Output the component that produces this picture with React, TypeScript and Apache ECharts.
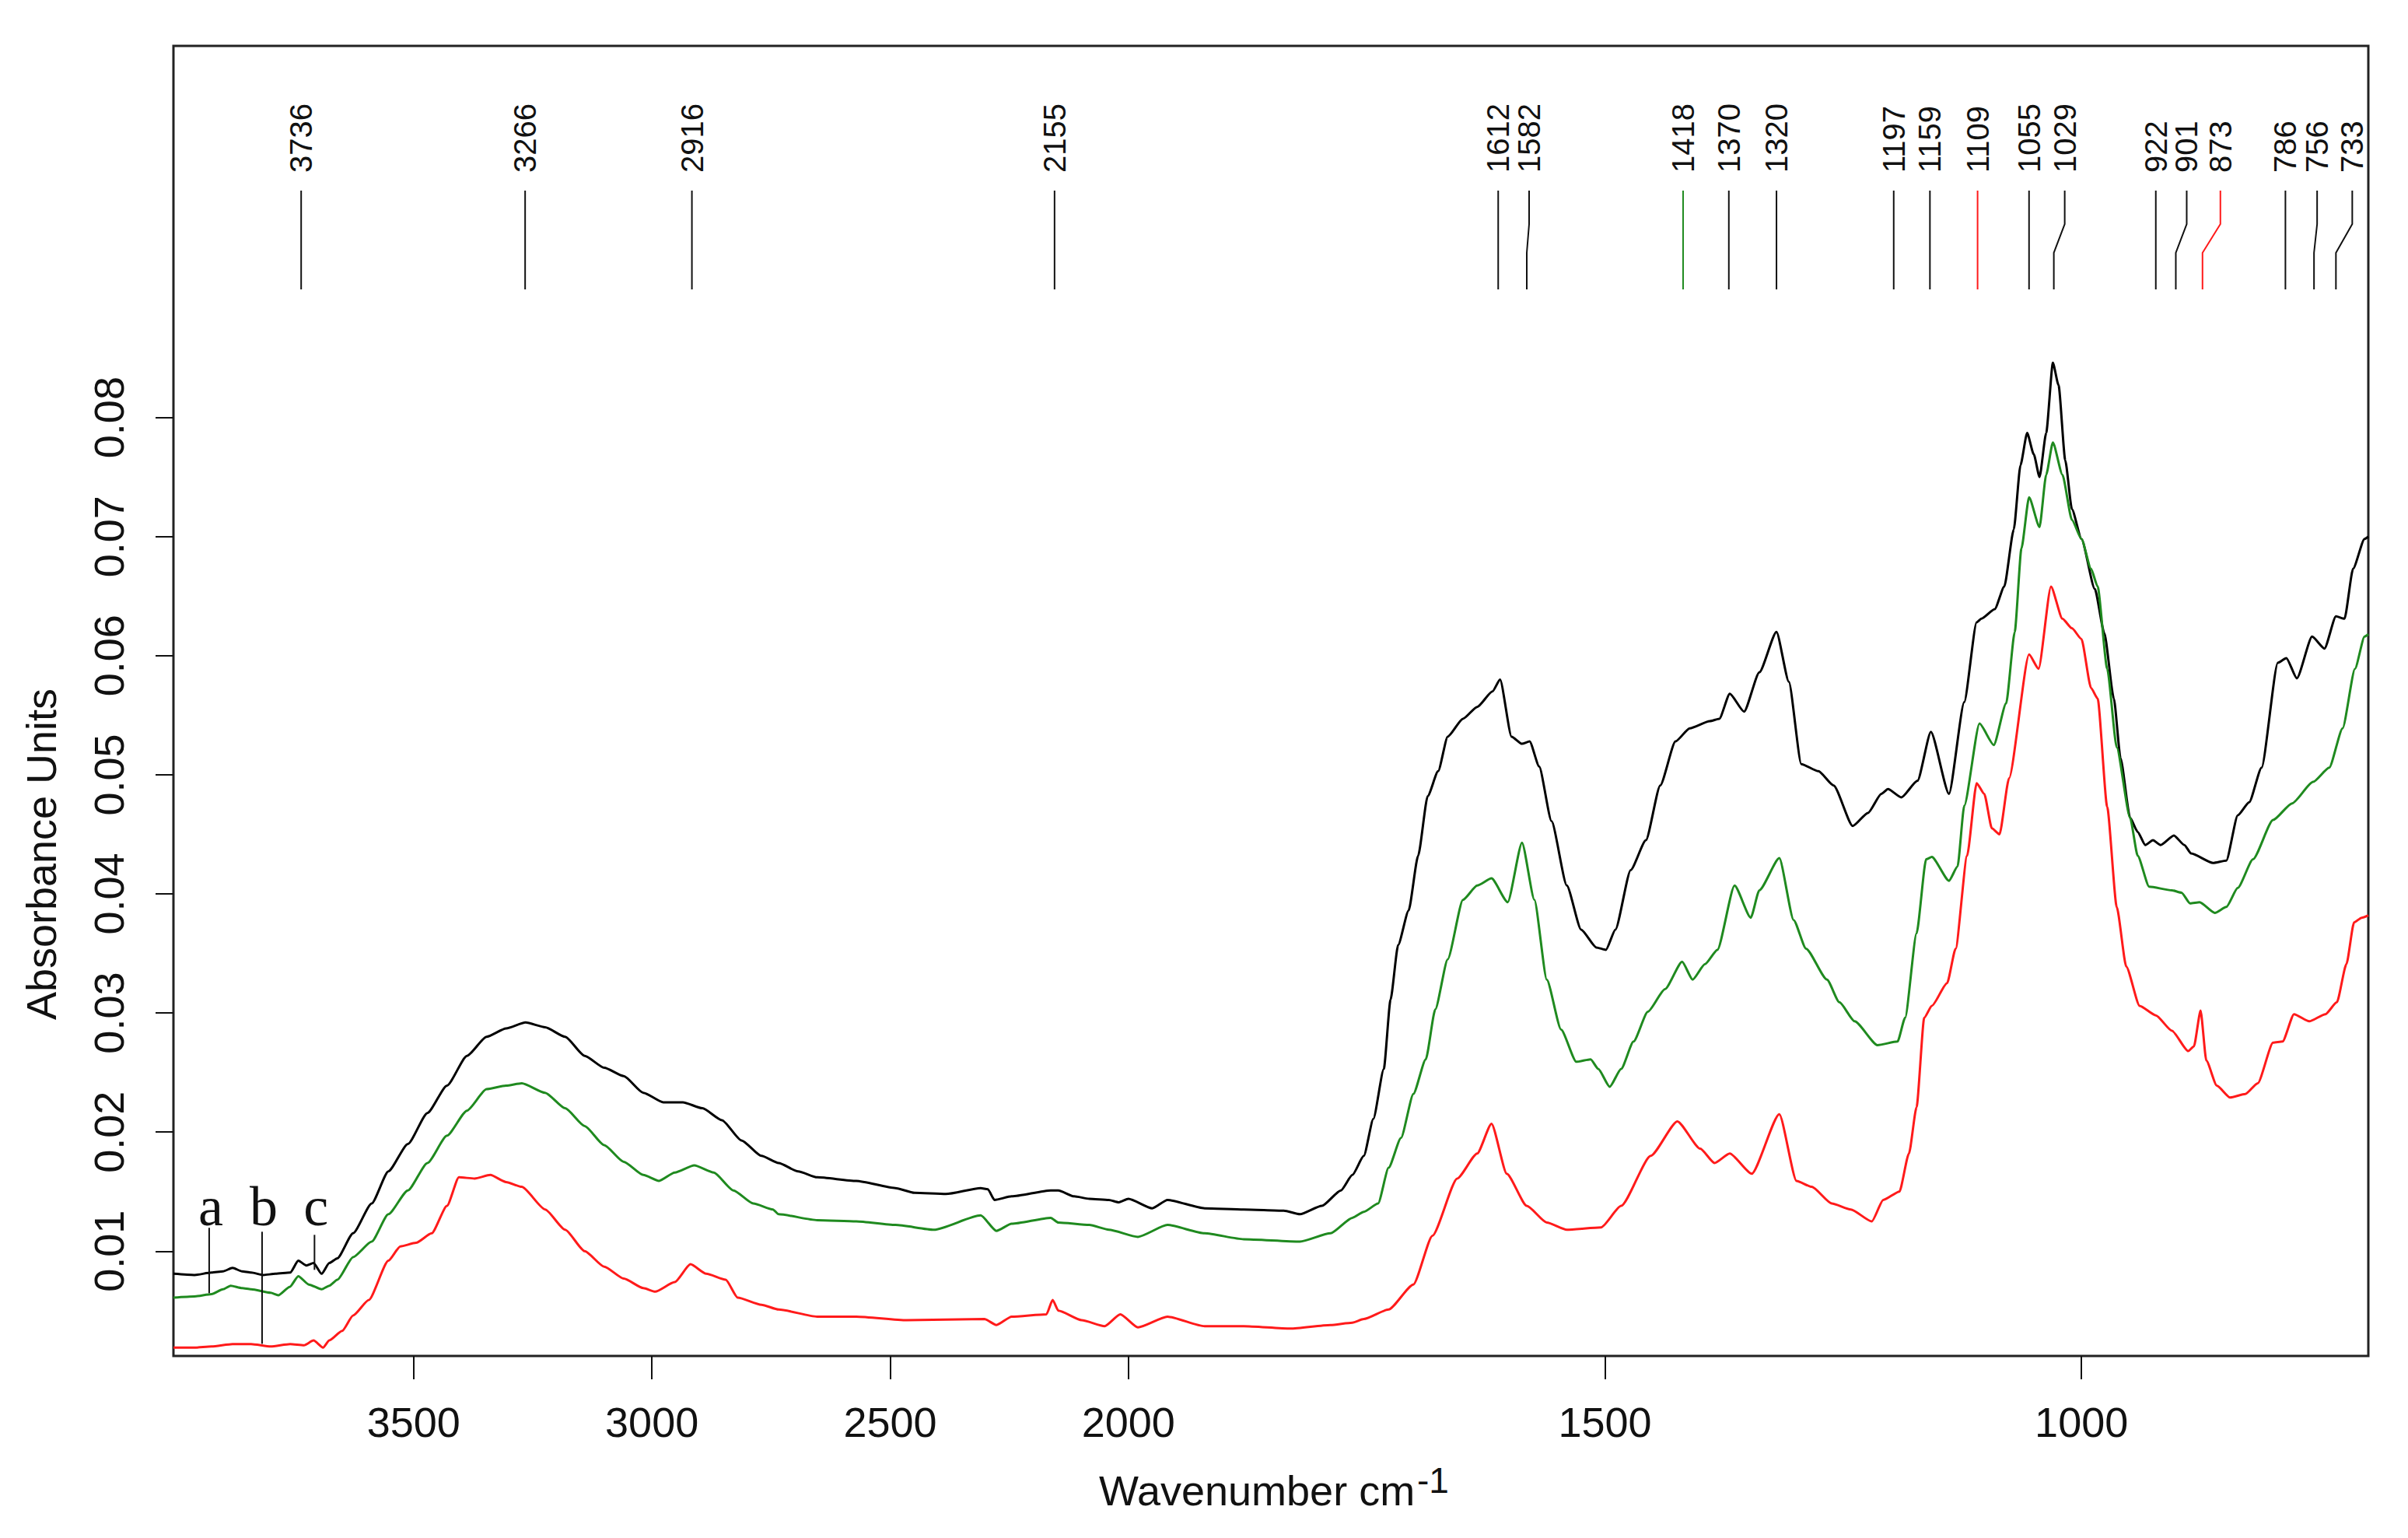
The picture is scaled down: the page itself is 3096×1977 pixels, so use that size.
import React, { useEffect, useRef } from "react";
import * as echarts from "echarts";

// ---------- DATA ----------
const xTickWavenumbers = [3500, 3000, 2500, 2000, 1500, 1000];
const yTickValues = [0.01, 0.02, 0.03, 0.04, 0.05, 0.06, 0.07, 0.08];

// [wavenumber cm-1, absorbance]
const blackSpectrum: [number, number][] = [
  [4004, 0.0081], [3960, 0.008], [3924, 0.0082], [3900, 0.0083], [3880, 0.0086], [3860, 0.0083],
  [3841, 0.0082], [3815, 0.008], [3790, 0.0081], [3759, 0.0082], [3742, 0.0092], [3725, 0.0088],
  [3710, 0.009], [3693, 0.0081], [3677, 0.009], [3660, 0.0094], [3627, 0.0115], [3588, 0.014],
  [3553, 0.0167], [3512, 0.019], [3471, 0.0216], [3430, 0.0239], [3388, 0.0264], [3347, 0.028],
  [3306, 0.0287], [3265, 0.0292], [3224, 0.0288], [3182, 0.028], [3141, 0.0264], [3100, 0.0254],
  [3059, 0.0247], [3018, 0.0233], [2976, 0.0225], [2935, 0.0225], [2894, 0.022], [2853, 0.021],
  [2812, 0.0193], [2770, 0.018], [2734, 0.0174], [2693, 0.0167], [2653, 0.0162], [2571, 0.0159],
  [2489, 0.0153], [2449, 0.0149], [2383, 0.0148], [2310, 0.0153], [2295, 0.0152], [2281, 0.0143],
  [2245, 0.0146], [2163, 0.0151], [2147, 0.0151], [2114, 0.0146], [2082, 0.0144], [2041, 0.0143],
  [2020, 0.0141], [2000, 0.0144], [1975, 0.0136], [1959, 0.0143], [1920, 0.0136], [1879, 0.0135],
  [1837, 0.0134], [1820, 0.0131], [1797, 0.0138], [1777, 0.0151], [1765, 0.0164], [1753, 0.018],
  [1743, 0.0211], [1732, 0.0253], [1725, 0.0311], [1717, 0.0357], [1706, 0.0386], [1696, 0.0432],
  [1686, 0.0482], [1675, 0.0503], [1665, 0.0532], [1649, 0.0547], [1634, 0.0557], [1618, 0.057],
  [1610, 0.058], [1598, 0.0532], [1587, 0.0526], [1579, 0.0528], [1569, 0.0507], [1556, 0.0461],
  [1540, 0.0407], [1525, 0.037], [1509, 0.0355], [1499, 0.0353], [1489, 0.037], [1473, 0.042],
  [1457, 0.0445], [1442, 0.0491], [1426, 0.0528], [1411, 0.0539], [1390, 0.0545], [1380, 0.0547],
  [1369, 0.0568], [1354, 0.0553], [1338, 0.0586], [1320, 0.062], [1307, 0.0578], [1294, 0.0509],
  [1276, 0.0503], [1260, 0.0491], [1240, 0.0457], [1224, 0.0468], [1210, 0.0484], [1203, 0.0488],
  [1189, 0.0481], [1172, 0.0495], [1158, 0.0536], [1139, 0.0484], [1123, 0.0561], [1110, 0.0628],
  [1105, 0.0631], [1091, 0.0639], [1081, 0.0658], [1071, 0.0706], [1064, 0.076], [1057, 0.0787],
  [1050, 0.0769], [1044, 0.075], [1037, 0.0787], [1030, 0.0846], [1024, 0.0827], [1017, 0.0764],
  [1010, 0.0723], [1000, 0.0698], [986, 0.0656], [976, 0.0619], [966, 0.0564], [959, 0.0514],
  [949, 0.0464], [941, 0.0452], [933, 0.0441], [925, 0.0445], [917, 0.0441], [903, 0.0449],
  [892, 0.0441], [885, 0.0434], [862, 0.0426], [848, 0.0428], [836, 0.0466], [824, 0.0477],
  [811, 0.0506], [794, 0.0594], [785, 0.0598], [774, 0.0581], [758, 0.0616], [745, 0.0606],
  [733, 0.0633], [724, 0.0631], [715, 0.0673], [703, 0.0698], [699, 0.07],
];

const greenSpectrum: [number, number][] = [
  [4004, 0.0061], [3960, 0.0062], [3924, 0.0064], [3900, 0.0068], [3884, 0.0071], [3860, 0.0069],
  [3841, 0.0068], [3800, 0.0065], [3784, 0.0063], [3760, 0.007], [3742, 0.0079], [3720, 0.0072],
  [3693, 0.0068], [3677, 0.0071], [3660, 0.0076], [3627, 0.0095], [3588, 0.0108], [3553, 0.0131],
  [3512, 0.0151], [3471, 0.0174], [3430, 0.0197], [3388, 0.0218], [3347, 0.0236], [3306, 0.0239],
  [3273, 0.0241], [3224, 0.0233], [3182, 0.022], [3141, 0.0205], [3100, 0.0189], [3059, 0.0175],
  [3018, 0.0164], [2985, 0.0159], [2952, 0.0166], [2911, 0.0172], [2870, 0.0166], [2829, 0.0151],
  [2787, 0.014], [2746, 0.0135], [2734, 0.0131], [2653, 0.0126], [2571, 0.0125], [2489, 0.0122],
  [2408, 0.0118], [2310, 0.013], [2277, 0.0117], [2245, 0.0123], [2163, 0.0128], [2147, 0.0124],
  [2082, 0.0122], [2041, 0.0118], [1990, 0.0112], [1959, 0.0122], [1920, 0.0115], [1879, 0.011],
  [1820, 0.0108], [1788, 0.0115], [1765, 0.0128], [1753, 0.0133], [1738, 0.014], [1727, 0.017],
  [1714, 0.0195], [1701, 0.0232], [1688, 0.0261], [1678, 0.0303], [1665, 0.0345], [1649, 0.0395],
  [1634, 0.0407], [1619, 0.0413], [1602, 0.0393], [1587, 0.0443], [1574, 0.0395], [1561, 0.0328],
  [1546, 0.0286], [1530, 0.0259], [1515, 0.0261], [1507, 0.0253], [1495, 0.0238], [1483, 0.0253],
  [1470, 0.0276], [1455, 0.0301], [1437, 0.032], [1419, 0.0343], [1408, 0.0328], [1395, 0.0341],
  [1382, 0.0353], [1364, 0.0407], [1347, 0.038], [1338, 0.0403], [1317, 0.043], [1302, 0.0378],
  [1289, 0.0354], [1267, 0.0328], [1254, 0.0309], [1238, 0.0293], [1214, 0.0273], [1193, 0.0276],
  [1185, 0.0296], [1173, 0.0367], [1163, 0.0429], [1157, 0.0431], [1139, 0.0411], [1130, 0.0423],
  [1123, 0.0474], [1107, 0.0543], [1092, 0.0525], [1079, 0.056], [1070, 0.062], [1063, 0.069],
  [1055, 0.0733], [1044, 0.0708], [1037, 0.0752], [1030, 0.0779], [1020, 0.0752], [1010, 0.0714],
  [1000, 0.0698], [990, 0.0673], [983, 0.0658], [973, 0.0589], [963, 0.0523], [949, 0.0464],
  [941, 0.0432], [929, 0.0406], [905, 0.0403], [895, 0.0401], [886, 0.0392], [876, 0.0393],
  [860, 0.0384], [848, 0.0389], [836, 0.0405], [820, 0.0429], [799, 0.0462], [779, 0.0476],
  [757, 0.0494], [740, 0.0506], [726, 0.0539], [713, 0.0589], [703, 0.0616], [699, 0.0618],
];

const redSpectrum: [number, number][] = [
  [4004, 0.0019], [3960, 0.0019], [3924, 0.002], [3880, 0.0022], [3841, 0.0022], [3800, 0.002],
  [3759, 0.0022], [3730, 0.0021], [3710, 0.0025], [3690, 0.0019], [3677, 0.0025], [3650, 0.0033],
  [3627, 0.0046], [3594, 0.0059], [3553, 0.0092], [3528, 0.0104], [3495, 0.0107], [3462, 0.0115],
  [3430, 0.0138], [3405, 0.0162], [3372, 0.0161], [3339, 0.0164], [3306, 0.0158], [3273, 0.0154],
  [3224, 0.0135], [3182, 0.0118], [3141, 0.01], [3100, 0.0087], [3059, 0.0077], [3018, 0.0069],
  [2993, 0.0066], [2952, 0.0074], [2919, 0.0089], [2886, 0.0081], [2845, 0.0076], [2820, 0.0061],
  [2770, 0.0055], [2734, 0.0051], [2653, 0.0045], [2571, 0.0045], [2465, 0.0042], [2302, 0.0043],
  [2277, 0.0038], [2245, 0.0045], [2172, 0.0047], [2159, 0.0059], [2147, 0.005], [2098, 0.0042],
  [2050, 0.0037], [2017, 0.0047], [1990, 0.0036], [1959, 0.0045], [1920, 0.0037], [1879, 0.0037],
  [1830, 0.0035], [1788, 0.0038], [1765, 0.004], [1753, 0.0043], [1727, 0.0051], [1701, 0.0072],
  [1681, 0.0113], [1655, 0.0161], [1634, 0.0182], [1619, 0.0207], [1603, 0.0165], [1582, 0.0138],
  [1561, 0.0124], [1540, 0.0118], [1504, 0.012], [1483, 0.0138], [1452, 0.018], [1424, 0.0209],
  [1400, 0.0186], [1385, 0.0174], [1369, 0.0182], [1346, 0.0165], [1317, 0.0215], [1299, 0.0159],
  [1283, 0.0154], [1262, 0.014], [1242, 0.0135], [1220, 0.0125], [1208, 0.0143], [1191, 0.015],
  [1181, 0.0182], [1173, 0.0221], [1165, 0.0296], [1157, 0.0306], [1141, 0.0325], [1132, 0.0354],
  [1120, 0.0432], [1110, 0.0493], [1102, 0.0484], [1094, 0.0455], [1086, 0.045], [1076, 0.0497],
  [1055, 0.0601], [1045, 0.0589], [1032, 0.0658], [1020, 0.0631], [1010, 0.0623], [1000, 0.0614],
  [990, 0.0573], [983, 0.0564], [973, 0.0473], [963, 0.0389], [953, 0.0339], [939, 0.0306],
  [922, 0.0298], [905, 0.0285], [888, 0.0268], [882, 0.0272], [875, 0.0302], [869, 0.026],
  [858, 0.0239], [844, 0.0229], [828, 0.0232], [815, 0.0241], [799, 0.0275], [789, 0.0276],
  [777, 0.0299], [761, 0.0293], [744, 0.0299], [732, 0.0309], [722, 0.0341], [714, 0.0376],
  [706, 0.038], [699, 0.0382],
];

const peakWavenumbers = [3736, 3266, 2916, 2155, 1612, 1582, 1418, 1370, 1320, 1197, 1159, 1109, 1055, 1029, 922, 901, 873, 786, 756, 733];

const markerLetters = ["a", "b", "c"];
const markerWavenumbers = [3929, 3818, 3708];
const markerTopValues = [0.01196, 0.01163, 0.01137];
const markerBottomValues = [0.00647, 0.00222, 0.00843];

// ---------- STYLE ----------
const FONT = '"Liberation Sans", Arial, Helvetica, sans-serif';
const SERIF = '"Liberation Serif", "Times New Roman", serif';
const peakLineColor: Record<number, string> = { 1418: "#1f8a1f", 1109: "#ff1a1a", 873: "#ff1a1a" };
const peakLabelShift: Record<number, number> = { 1582: 3, 1029: 14, 901: 14, 873: 23, 756: 4, 733: 21 };

// piecewise axis: region above 2000 cm-1 compressed by factor 2
const toAxis = (wn: number) => (wn <= 2000 ? wn : 2000 + (wn - 2000) / 2);
const fromAxis = (u: number) => (u <= 2000 ? u : 2000 + (u - 2000) * 2);

export default function App() {
  const ref = useRef<HTMLDivElement>(null);

  useEffect(() => {
    document.body.style.margin = "0";
    if (!ref.current) return;
    const chart = echarts.init(ref.current, null, { renderer: "svg" });

    const lineSeries = (data: [number, number][], color: string) => ({
      type: "line",
      data: data.map(([w, v]) => [toAxis(w), v]),
      showSymbol: false,
      symbol: "none",
      smooth: 0.2,
      smoothMonotone: "x",
      lineStyle: { color, width: 3 },
      silent: true,
      z: 2,
    });

    const option: any = {
      animation: false,
      backgroundColor: "#ffffff",
      grid: {
        left: 223,
        right: 51,
        top: 59,
        bottom: 234,
        show: true,
        borderColor: "#222222",
        borderWidth: 3,
        backgroundColor: "transparent",
      },
      xAxis: {
        type: "value",
        inverse: true,
        min: 699,
        max: 3002,
        axisLine: { show: false },
        splitLine: { show: false },
        axisTick: {
          show: true,
          length: 30,
          customValues: xTickWavenumbers.map(toAxis),
          lineStyle: { color: "#111", width: 2 },
        },
        axisLabel: {
          show: true,
          customValues: xTickWavenumbers.map(toAxis),
          formatter: (v: number) => String(Math.round(fromAxis(v))),
          fontSize: 54,
          fontFamily: FONT,
          color: "#111",
          margin: 58,
        },
      },
      yAxis: {
        type: "value",
        min: 0.0012,
        max: 0.1112,
        axisLine: { show: false },
        splitLine: { show: false },
        axisTick: {
          show: true,
          length: 23,
          customValues: yTickValues,
          lineStyle: { color: "#111", width: 2 },
        },
        axisLabel: {
          show: true,
          customValues: yTickValues,
          formatter: (v: number) => v.toFixed(2),
          rotate: 90,
          fontSize: 54,
          fontFamily: FONT,
          color: "#111",
          margin: 56,
        },
      },
      graphic: [
        {
          type: "text",
          x: 53,
          y: 1098,
          rotation: Math.PI / 2,
          style: {
            text: "Absorbance Units",
            fill: "#111",
            fontSize: 54,
            fontFamily: FONT,
            align: "center",
            verticalAlign: "middle",
            textAlign: "center",
            textVerticalAlign: "middle",
          },
        },
        {
          type: "text",
          x: 1413,
          y: 1916,
          style: {
            text: "Wavenumber cm",
            fill: "#111",
            fontSize: 54,
            fontFamily: FONT,
            align: "left",
            verticalAlign: "middle",
            textAlign: "left",
            textVerticalAlign: "middle",
          },
        },
        {
          type: "text",
          x: 1822,
          y: 1903,
          style: {
            text: "-1",
            fill: "#111",
            fontSize: 46,
            fontFamily: FONT,
            align: "left",
            verticalAlign: "middle",
            textAlign: "left",
            textVerticalAlign: "middle",
          },
        },
      ],
      series: [
        lineSeries(blackSpectrum, "#000000"),
        lineSeries(greenSpectrum, "#1f8a1f"),
        lineSeries(redSpectrum, "#ff1a1a"),
        {
          type: "custom",
          coordinateSystem: "cartesian2d",
          silent: true,
          z: 5,
          data: peakWavenumbers.map((w) => [toAxis(w), 0.1, w]),
          renderItem: (params: any, api: any) => {
            const wn = api.value(2);
            const x = api.coord([api.value(0), 0.1])[0];
            const top = params.coordSys.y;
            const shift = peakLabelShift[wn] || 0;
            const color = peakLineColor[wn] || "#111";
            const xt = x + shift;
            return {
              type: "group",
              children: [
                {
                  type: "polyline",
                  shape: {
                    points: [
                      [xt, top + 186],
                      [xt, top + 229],
                      [x, top + 266],
                      [x, top + 313],
                    ],
                  },
                  style: { stroke: color, lineWidth: 2, fill: null },
                },
                {
                  type: "text",
                  x: xt,
                  y: top + 163,
                  rotation: Math.PI / 2,
                  style: {
                    text: String(wn),
                    fill: "#111",
                    fontSize: 40,
                    fontFamily: FONT,
                    align: "left",
                    verticalAlign: "middle",
                    textAlign: "left",
                    textVerticalAlign: "middle",
                  },
                },
              ],
            };
          },
        },
        {
          type: "custom",
          coordinateSystem: "cartesian2d",
          silent: true,
          z: 6,
          data: markerWavenumbers.map((w, i) => [toAxis(w), markerTopValues[i], markerBottomValues[i], i]),
          renderItem: (params: any, api: any) => {
            const i = api.value(3);
            const p1 = api.coord([api.value(0), api.value(1)]);
            const p2 = api.coord([api.value(0), api.value(2)]);
            const gridBottom = params.coordSys.y + params.coordSys.height;
            return {
              type: "group",
              children: [
                {
                  type: "line",
                  shape: { x1: p1[0], y1: p1[1], x2: p2[0], y2: p2[1] },
                  style: { stroke: "#111", lineWidth: 2 },
                },
                {
                  type: "text",
                  x: p1[0] + 2,
                  y: gridBottom - 192,
                  style: {
                    text: markerLetters[i],
                    fill: "#111",
                    fontSize: 72,
                    fontFamily: SERIF,
                    align: "center",
                    verticalAlign: "middle",
                    textAlign: "center",
                    textVerticalAlign: "middle",
                  },
                },
              ],
            };
          },
        },
      ],
    };

    chart.setOption(option);
    return () => chart.dispose();
  }, []);

  return <div ref={ref} style={{ width: 3096, height: 1977 }} />;
}
